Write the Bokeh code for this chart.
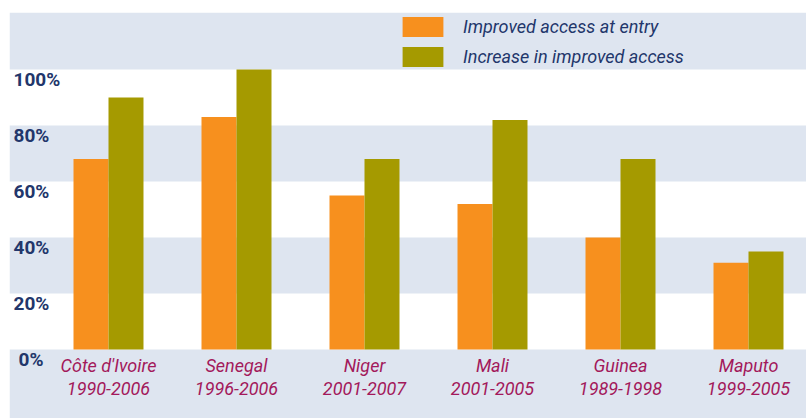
from bokeh.plotting import figure
from bokeh.models import ColumnDataSource, BoxAnnotation, Legend, LegendItem, Range1d
from bokeh.transform import dodge
from bokeh.core.properties import value
from bokeh.embed import file_html
from bokeh.resources import INLINE

# ---- data ----
places = ["Côte d'Ivoire", "Senegal", "Niger", "Mali", "Guinea", "Maputo"]
periods = ["1990-2006", "1996-2006", "2001-2007", "2001-2005", "1989-1998", "1999-2005"]
access_at_entry = [68, 83, 55, 52, 40, 31]
increase_in_access = [90, 100, 68, 82, 68, 35]
y_ticks = [0, 20, 40, 60, 80, 100]
y_tick_labels = ["0%", "20%", "40%", "60%", "80%", "100%"]
series_names = ["Improved access at entry", "Increase in improved access"]

# ---- styles ----
ORANGE = "#F7901E"
OLIVE = "#A59A00"
BAND = "#DEE5F0"
NAVY = "#22366B"
MAGENTA = "#A3195B"
FONT = "Roboto"

idx = list(range(len(places)))
src = ColumnDataSource(dict(
    x=idx,
    entry=access_at_entry,
    increase=increase_in_access,
    label=[f"{a}\n{b}" for a, b in zip(places, periods)],
    zero=[0] * len(places),
))

x_start, x_end = -0.7734, 5.4531
y_start, y_end = -24.64, 120.36

p = figure(width=806, height=418, output_backend="svg", toolbar_location=None,
           x_range=Range1d(x_start, x_end), y_range=Range1d(y_start, y_end),
           x_axis_location=None, y_axis_location=None,
           min_border_left=9, min_border_right=0, min_border_top=12, min_border_bottom=0)
p.xgrid.visible = False
p.ygrid.visible = False
p.outline_line_color = None
p.background_fill_color = "white"
p.border_fill_color = "white"

# alternating background bands
p.add_layout(BoxAnnotation(top=y_ticks[0], fill_color=BAND, fill_alpha=1, line_color=None, level="underlay"))
for lo, hi in zip(y_ticks[1::2], y_ticks[2::2]):
    p.add_layout(BoxAnnotation(bottom=lo, top=hi, fill_color=BAND, fill_alpha=1, line_color=None, level="underlay"))
p.add_layout(BoxAnnotation(bottom=y_ticks[-1], fill_color=BAND, fill_alpha=1, line_color=None, level="underlay"))

bw = 0.2734
r1 = p.vbar(x=dodge("x", -bw / 2), top="entry", bottom=0, width=bw, source=src,
            fill_color=ORANGE, line_color=None)
r2 = p.vbar(x=dodge("x", bw / 2), top="increase", bottom=0, width=bw, source=src,
            fill_color=OLIVE, line_color=None)

# category labels
p.text(x="x", y="zero", text="label", source=src, text_align="center", text_baseline="top",
       y_offset=5, text_font=value(FONT), text_font_style="italic", text_font_size="18px",
       text_color=MAGENTA, text_line_height=1.1)

# y tick labels inside the frame
ylab_style = dict(y_offset=-2, text_align="left", text_baseline="top", text_font=value(FONT),
                  text_font_size="19px", text_font_style="bold", text_color=NAVY)
p.text(x=[x_start], y=y_ticks[:1], text=y_tick_labels[:1], x_offset=9, **ylab_style)
p.text(x=[x_start] * (len(y_ticks) - 1), y=y_ticks[1:], text=y_tick_labels[1:], x_offset=4, **ylab_style)

legend = Legend(items=[LegendItem(label=series_names[0], renderers=[r1]),
                       LegendItem(label=series_names[1], renderers=[r2])],
                location=(388, 349), orientation="vertical",
                glyph_width=51, glyph_height=25, spacing=5, label_standoff=15,
                padding=0, margin=0, border_line_color=None, background_fill_alpha=0,
                label_text_font=FONT, label_text_font_style="italic",
                label_text_font_size="18px", label_text_color=NAVY, label_height=25)
p.add_layout(legend)

open("out.html", "w").write(file_html(p, INLINE))
